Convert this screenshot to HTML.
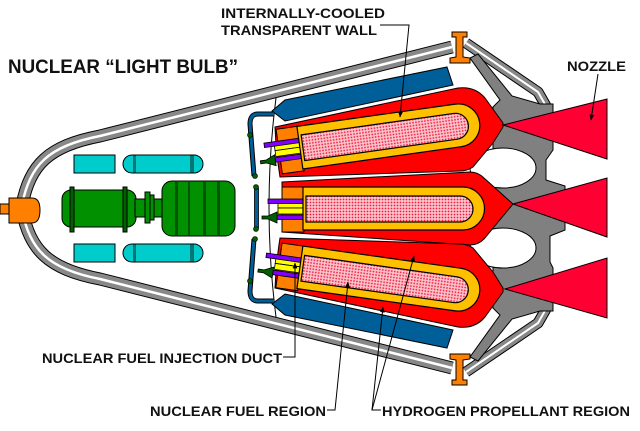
<!DOCTYPE html>
<html><head><meta charset="utf-8"><style>
html,body{margin:0;padding:0;background:#fff;}
svg{display:block;}
text{font-family:"Liberation Sans",Arial,sans-serif;font-weight:bold;fill:#111;}
</style></head><body>
<svg width="640" height="431" viewBox="0 0 640 431" xmlns="http://www.w3.org/2000/svg">
<defs>
<pattern id="dots" width="3" height="3" patternUnits="userSpaceOnUse">
<rect width="3" height="3" fill="#ffc4cc"/><circle cx="1.5" cy="1.5" r="0.9" fill="#ee2040"/>
</pattern>
<marker id="ar" viewBox="0 0 10 10" refX="9" refY="5" markerWidth="6" markerHeight="6" orient="auto">
<path d="M0,1 L10,5 L0,9 Z" fill="#000"/></marker>
<g id="inj">
<rect x="282" y="187" width="22" height="45" fill="#ff8000" stroke="#000" stroke-width="1"/>
<rect x="278" y="203" width="26" height="5" fill="#ffff00" stroke="#000" stroke-width="0.8"/>
<rect x="278" y="208" width="26" height="6" fill="#ffff00" stroke="#000" stroke-width="0.8"/>
<rect x="268" y="199" width="36" height="4.5" fill="#8000ff" stroke="#000" stroke-width="0.8"/>
<rect x="277" y="215" width="27" height="4.5" fill="#8000ff" stroke="#000" stroke-width="0.8"/>
<path d="M262,216 L268,216 L277,212 L277,223 L268,219 L262,219 Z" fill="#006000" stroke="#000" stroke-width="0.8"/>
<path d="M303,187 L463,187 A21.5,21.5 0 0 1 463,230 L303,230 Z" fill="#ffc000" stroke="#000" stroke-width="1.2"/>
<path d="M306,196 L460,196 A13,13 0 0 1 460,222 L306,222 Z" fill="url(#dots)" stroke="#000" stroke-width="1.2"/>
</g>
</defs>

<!-- hull bands -->
<g fill="none" stroke-linejoin="round">
<path id="hb" d="M22,205 C30,165 48,146 100,136 L452,47" stroke="#000" stroke-width="13"/>
<path d="M22,205 C30,165 48,146 100,136 L452,47" stroke="#888" stroke-width="11"/>
<path d="M22,205 C30,165 48,146 100,136 L452,47" stroke="#fff" stroke-width="2.5"/>
<path d="M22,210 C30,250 48,269 100,279 L452,368" stroke="#000" stroke-width="13"/>
<path d="M22,210 C30,250 48,269 100,279 L452,368" stroke="#888" stroke-width="11"/>
<path d="M22,210 C30,250 48,269 100,279 L452,368" stroke="#fff" stroke-width="2.5"/>
<path d="M466,43 L538,92 L546,106" stroke="#000" stroke-width="11"/>
<path d="M466,43 L538,92 L546,106" stroke="#888" stroke-width="9"/>
<path d="M466,43 L538,92 L546,106" stroke="#fff" stroke-width="2"/>
<path d="M466,372 L538,323 L546,309" stroke="#000" stroke-width="11"/>
<path d="M466,372 L538,323 L546,309" stroke="#888" stroke-width="9"/>
<path d="M466,372 L538,323 L546,309" stroke="#fff" stroke-width="2"/>
</g>
<!-- gray support -->
<path d="M493,107 L500,100 L470,58 L478,54 L512,96 L540,104 L553,104 L553,150 L546,160 L546,180 L565,186 L565,230 L550,236 L550,262 L553,268 L553,311 L540,311 L512,319 L478,361 L470,357 L500,315 L493,308 Z" fill="#808080" stroke="#000" stroke-width="1"/>
<ellipse cx="503" cy="168" rx="33" ry="20" fill="#fff" stroke="#000" stroke-width="1"/>
<ellipse cx="503" cy="248" rx="33" ry="20" fill="#fff" stroke="#000" stroke-width="1"/>
<!-- divider line -->
<path d="M276,98 Q262,207 276,317" fill="none" stroke="#000" stroke-width="1"/>

<!-- blue tanks -->
<polygon points="272,111 285,100 447,67 453,85 285,121" fill="#005f99" stroke="#000" stroke-width="1"/>
<polygon points="272,304 285,315 447,348 453,330 285,294" fill="#005f99" stroke="#000" stroke-width="1"/>
<!-- blue pipes -->
<path d="M274,114 L258,114 Q250,114 250,124 L254,176" fill="none" stroke="#000" stroke-width="5"/>
<path d="M274,114 L258,114 Q250,114 250,124 L254,176" fill="none" stroke="#005f99" stroke-width="3"/>
<path d="M274,301 L258,301 Q250,301 250,291 L254,239" fill="none" stroke="#000" stroke-width="5"/>
<path d="M274,301 L258,301 Q250,301 250,291 L254,239" fill="none" stroke="#005f99" stroke-width="3"/>
<rect x="254.5" y="188" width="4" height="40" fill="#005f99" stroke="#000" stroke-width="0.8"/>
<g fill="#006000" stroke="#000" stroke-width="0.6">
<circle cx="250" cy="135" r="2.5"/><circle cx="255" cy="176" r="2.5"/>
<circle cx="250" cy="281" r="2.5"/><circle cx="255" cy="239" r="2.5"/>
<circle cx="256" cy="187" r="2.5"/><circle cx="256" cy="229" r="2.5"/>
</g>

<!-- red bodies -->
<path d="M275,127 L458,88 Q475,86 485,98 L503,123 L503,127 L493,143 L473,167 Q467,171 460,171 L280,177 Q276,152 275,127 Z" fill="#ff0000" stroke="#000" stroke-width="1"/>
<path d="M282,182 L470,172 Q478,172 484,178 L513,204 L484,239 Q478,245 470,245 L282,232 Z" fill="#ff0000" stroke="#000" stroke-width="1"/>
<path d="M275,288 L458,327 Q475,329 485,317 L503,292 L503,288 L493,272 L473,248 Q467,244 460,244 L280,238 Q276,263 275,288 Z" fill="#ff0000" stroke="#000" stroke-width="1"/>
<!-- nozzles -->
<polygon points="503,125 607,99 607,159" fill="#ff0033" stroke="#000" stroke-width="1"/>
<polygon points="513,204 607,178 607,237" fill="#ff0033" stroke="#000" stroke-width="1"/>
<polygon points="505,289 607,258 607,318" fill="#ff0033" stroke="#000" stroke-width="1"/>

<!-- inner tubes -->
<use href="#inj" transform="translate(-4,-73.5) rotate(-8,394,208.5)"/>
<use href="#inj"/>
<use href="#inj" transform="translate(-4,71.5) rotate(8,394,208.5)"/>

<!-- flanges -->
<path d="M452,32 L467,32 L467,37 L463,37 L463,57 L470,58 L470,63 L450,63 L450,58 L456,57 L456,37 L452,37 Z" fill="#ff8000" stroke="#000" stroke-width="1"/>
<path d="M452,385 L467,385 L467,380 L463,380 L463,360 L470,359 L470,354 L450,354 L450,359 L456,360 L456,380 L452,380 Z" fill="#ff8000" stroke="#000" stroke-width="1"/>

<!-- nose -->
<rect x="0" y="204" width="10" height="10" fill="#ff8000" stroke="#000" stroke-width="1"/>
<path d="M9,198 L32,198 Q40,198 40,210 Q40,223 32,223 L9,223 Z" fill="#ff8000" stroke="#000" stroke-width="1"/>

<!-- cyan tanks -->
<g stroke="#000" stroke-width="1">
<rect x="74" y="155" width="41" height="18" fill="#00cccc"/>
<rect x="123" y="155" width="80" height="18" rx="9" fill="#00cccc"/>
<rect x="74" y="244" width="41" height="18" fill="#00cccc"/>
<rect x="123" y="244" width="80" height="18" rx="9" fill="#00cccc"/>
</g>
<g fill="#007777">
<rect x="133" y="155.5" width="3" height="17"/><rect x="190" y="155.5" width="4" height="17"/>
<rect x="133" y="244.5" width="3" height="17"/><rect x="190" y="244.5" width="4" height="17"/>
</g>
<!-- green machine -->
<g stroke="#000" stroke-width="1">
<rect x="62" y="190" width="74" height="37" rx="9" fill="#009000"/>
<rect x="70" y="187" width="4" height="45" fill="#006000"/>
<rect x="123" y="187" width="4" height="45" fill="#006000"/>
<rect x="135" y="199" width="28" height="18" fill="#009000"/>
<rect x="145" y="192" width="5" height="31" fill="#009000"/>
<rect x="150" y="195" width="4" height="25" fill="#009000"/>
<rect x="162" y="181" width="73" height="55" rx="10" fill="#009000"/>
</g>
<g fill="#005500">
<rect x="175" y="182" width="3" height="53"/><rect x="188" y="182" width="2" height="53"/>
<rect x="203" y="182" width="3" height="53"/><rect x="217" y="182" width="3" height="53"/>
</g>

<!-- leaders -->
<g fill="none" stroke="#000" stroke-width="1">
<polyline points="380,25 409,25 400,117" marker-end="url(#ar)"/>
<line x1="598" y1="74" x2="591" y2="120" marker-end="url(#ar)"/>
<polyline points="283,357 295,357 295,263" marker-end="url(#ar)"/>
<polyline points="327,410 335,410 348,282" marker-end="url(#ar)"/>
<polyline points="381,410 372,410 383,307" marker-end="url(#ar)"/>
<line x1="372" y1="410" x2="414" y2="256" marker-end="url(#ar)"/>
</g>

<!-- labels -->
<text x="8" y="73" font-size="19" textLength="230" lengthAdjust="spacingAndGlyphs">NUCLEAR “LIGHT BULB”</text>
<text x="221" y="18" font-size="14" textLength="164" lengthAdjust="spacingAndGlyphs">INTERNALLY-COOLED</text>
<text x="221" y="35" font-size="14" textLength="156" lengthAdjust="spacingAndGlyphs">TRANSPARENT WALL</text>
<text x="567" y="71" font-size="14" textLength="59" lengthAdjust="spacingAndGlyphs">NOZZLE</text>
<text x="42" y="363" font-size="14" textLength="240" lengthAdjust="spacingAndGlyphs">NUCLEAR FUEL INJECTION DUCT</text>
<text x="150" y="416" font-size="14" textLength="176" lengthAdjust="spacingAndGlyphs">NUCLEAR FUEL REGION</text>
<text x="382" y="416" font-size="14" textLength="248" lengthAdjust="spacingAndGlyphs">HYDROGEN PROPELLANT REGION</text>
</svg>
</body></html>
